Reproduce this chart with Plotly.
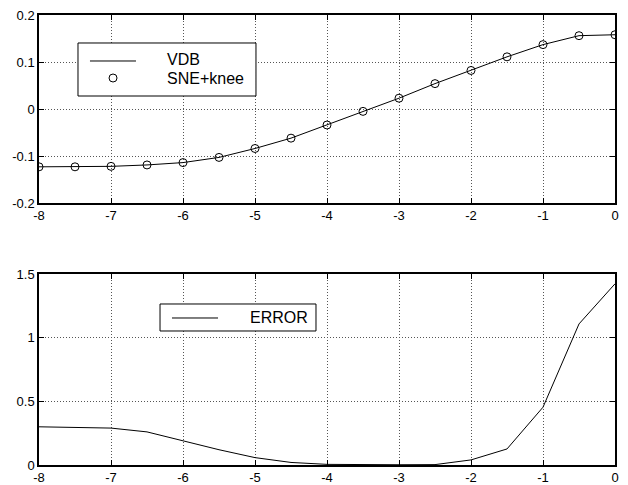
import plotly.graph_objects as go

# ---- data ----
x_vals = [-8, -7.5, -7, -6.5, -6, -5.5, -5, -4.5, -4, -3.5, -3, -2.5, -2, -1.5, -1, -0.5, 0]
vdb = [-0.123, -0.123, -0.122, -0.119, -0.114, -0.103, -0.084, -0.062, -0.034, -0.005,
       0.023, 0.054, 0.082, 0.111, 0.137, 0.156, 0.158]
sne_knee = [-0.123, -0.123, -0.122, -0.119, -0.114, -0.103, -0.084, -0.062, -0.034, -0.005,
            0.023, 0.054, 0.082, 0.111, 0.137, 0.156, 0.158]
error = [0.30, 0.295, 0.29, 0.26, 0.19, 0.12, 0.058, 0.02, 0.005, 0.002,
         0.002, 0.003, 0.04, 0.126, 0.454, 1.108, 1.423]

x_ticks = [-8, -7, -6, -5, -4, -3, -2, -1, 0]
x_ticktext = ["-8", "-7", "-6", "-5", "-4", "-3", "-2", "-1", "0"]
y1_ticks = [-0.2, -0.1, 0, 0.1, 0.2]
y1_ticktext = ["-0.2", "-0.1", "0", "0.1", "0.2"]
y2_ticks = [0, 0.5, 1, 1.5]
y2_ticktext = ["0", "0.5", "1", "1.5"]

FONT = "Liberation Sans, Arial, sans-serif"

fig = go.Figure()
fig.add_trace(go.Scatter(x=x_vals, y=vdb, mode="lines", name="VDB",
                         line=dict(color="black", width=1), xaxis="x", yaxis="y"))
fig.add_trace(go.Scatter(x=x_vals, y=sne_knee, mode="markers", name="SNE+knee",
                         marker=dict(symbol="circle-open", size=8, color="black",
                                     line=dict(width=1, color="black")),
                         xaxis="x", yaxis="y"))
fig.add_trace(go.Scatter(x=x_vals, y=error, mode="lines", name="ERROR",
                         line=dict(color="black", width=1), xaxis="x2", yaxis="y2"))

axis_common = dict(showline=True, linecolor="black", linewidth=1.5, mirror="allticks",
                   ticks="inside", ticklen=5, tickcolor="black", tickwidth=1,
                   showgrid=True, gridcolor="#555", griddash="1px,2px", gridwidth=1,
                   zeroline=False, automargin=False, ticklabeloverflow="allow",
                   tickfont=dict(family=FONT, size=13, color="black"))

# page body adds an 8px offset; size/margins compensate so the plot lands where the reference has it
fig.update_layout(
    width=620, height=477,
    margin=dict(l=31, r=13, t=7, b=20),
    paper_bgcolor="white", plot_bgcolor="white",
    showlegend=False,
    xaxis=dict(domain=[0, 1], anchor="y", range=[-8, 0], tickvals=x_ticks,
               ticktext=x_ticktext, **axis_common),
    yaxis=dict(domain=[0.5822, 1], anchor="x", range=[-0.2, 0.2], tickvals=y1_ticks,
               ticktext=y1_ticktext, **axis_common),
    xaxis2=dict(domain=[0, 1], anchor="y2", range=[-8, 0], tickvals=x_ticks,
                ticktext=x_ticktext, **axis_common),
    yaxis2=dict(domain=[0, 0.4244], anchor="x2", range=[0, 1.5], tickvals=y2_ticks,
                ticktext=y2_ticktext, **axis_common),
)

# ---- manual legends (MATLAB style) ----
shapes = [
    dict(type="rect", xref="paper", yref="paper", x0=0.0677, x1=0.3767, y0=0.8200, y1=0.9378,
         line=dict(color="black", width=1), fillcolor="white", layer="above"),
    dict(type="line", xref="paper", yref="paper", x0=0.0885, x1=0.1684, y0=0.8978, y1=0.8978,
         line=dict(color="black", width=1), layer="above"),
    dict(type="circle", xref="paper", yref="paper", x0=0.1285 - 4/576, x1=0.1285 + 4/576,
         y0=0.8600 - 4/450, y1=0.8600 + 4/450, line=dict(color="black", width=1), layer="above"),
    dict(type="rect", xref="paper", yref="paper", x0=0.2101, x1=0.4809, y0=0.2978, y1=0.3578,
         line=dict(color="black", width=1), fillcolor="white", layer="above"),
    dict(type="line", xref="paper", yref="paper", x0=0.2309, x1=0.3108, y0=0.3267, y1=0.3267,
         line=dict(color="black", width=1), layer="above"),
]
annots = [
    dict(text="VDB", x=0.2188, y=0.9000),
    dict(text="SNE+knee", x=0.2188, y=0.8578),
    dict(text="ERROR", x=0.3628, y=0.3267),
]
fig.update_layout(shapes=shapes, annotations=[
    dict(xref="paper", yref="paper", xanchor="left", yanchor="middle", showarrow=False,
         font=dict(family=FONT, size=16, color="black"), **a) for a in annots])

fig.write_html("out.html")
